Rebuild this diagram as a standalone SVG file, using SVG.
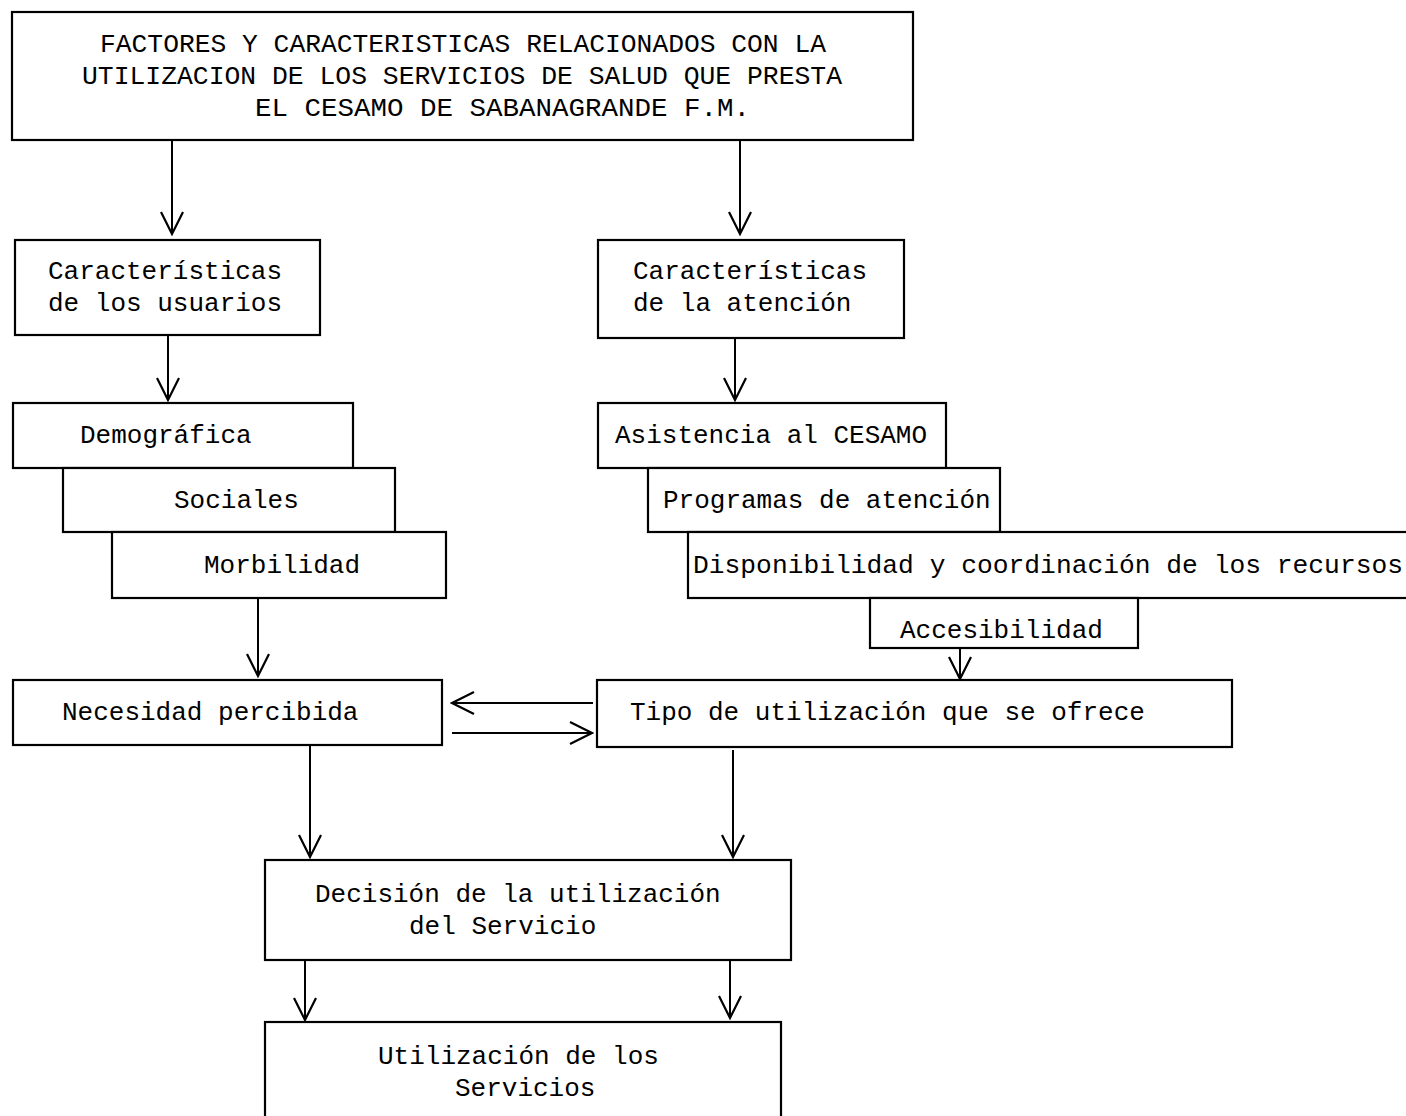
<svg xmlns="http://www.w3.org/2000/svg" width="1406" height="1116" viewBox="0 0 1406 1116">
<defs>
<style>
.box{fill:#fff;stroke:#000;stroke-width:2.2}
.t{font-family:"Liberation Mono","DejaVu Sans Mono",monospace;font-size:26px;fill:#000}
.c{fill:none;stroke:#000;stroke-width:2}
</style>
<marker id="v" viewBox="0 0 26 26" refX="24" refY="13" markerWidth="26" markerHeight="26" markerUnits="userSpaceOnUse" orient="auto">
<path d="M2,2 L24,13 L2,24" fill="none" stroke="#000" stroke-width="2.2"/>
</marker>
</defs>
<rect width="1406" height="1116" fill="#fff"/>
<g id="connectors">
<line class="c" x1="172" y1="140" x2="172" y2="234" marker-end="url(#v)"/>
<line class="c" x1="740" y1="140" x2="740" y2="234" marker-end="url(#v)"/>
<line class="c" x1="168" y1="335" x2="168" y2="400" marker-end="url(#v)"/>
<line class="c" x1="735" y1="338" x2="735" y2="400" marker-end="url(#v)"/>
<line class="c" x1="258" y1="598" x2="258" y2="676" marker-end="url(#v)"/>
<line class="c" x1="960" y1="648" x2="960" y2="679" marker-end="url(#v)"/>
<line class="c" x1="593" y1="703" x2="452" y2="703" marker-end="url(#v)"/>
<line class="c" x1="452" y1="733" x2="592" y2="733" marker-end="url(#v)"/>
<line class="c" x1="310" y1="745" x2="310" y2="857" marker-end="url(#v)"/>
<line class="c" x1="733" y1="750" x2="733" y2="857" marker-end="url(#v)"/>
<line class="c" x1="305" y1="960" x2="305" y2="1020" marker-end="url(#v)"/>
<line class="c" x1="730" y1="960" x2="730" y2="1018" marker-end="url(#v)"/>
</g>
<g id="n-titulo">
<rect class="box" x="12" y="12" width="901" height="128"/>
<text class="t" x="100" y="52" textLength="726" lengthAdjust="spacingAndGlyphs">FACTORES Y CARACTERISTICAS RELACIONADOS CON LA</text>
<text class="t" x="82" y="84" textLength="760" lengthAdjust="spacingAndGlyphs">UTILIZACION DE LOS SERVICIOS DE SALUD QUE PRESTA</text>
<text class="t" x="255" y="116" textLength="495" lengthAdjust="spacingAndGlyphs">EL CESAMO DE SABANAGRANDE F.M.</text>
</g>
<g id="n-usuarios">
<rect class="box" x="15" y="240" width="305" height="95"/>
<text class="t" x="48" y="279">Características</text>
<text class="t" x="48" y="311">de los usuarios</text>
</g>
<g id="n-atencion">
<rect class="box" x="598" y="240" width="306" height="98"/>
<text class="t" x="633" y="279">Características</text>
<text class="t" x="633" y="311">de la atención</text>
</g>
<g id="n-demografica">
<rect class="box" x="13" y="403" width="340" height="65"/>
<text class="t" x="80" y="443">Demográfica</text>
</g>
<g id="n-sociales">
<rect class="box" x="63" y="468" width="332" height="64"/>
<text class="t" x="174" y="508">Sociales</text>
</g>
<g id="n-morbilidad">
<rect class="box" x="112" y="532" width="334" height="66"/>
<text class="t" x="204" y="573">Morbilidad</text>
</g>
<g id="n-asistencia">
<rect class="box" x="598" y="403" width="348" height="65"/>
<text class="t" x="615" y="443">Asistencia al CESAMO</text>
</g>
<g id="n-programas">
<rect class="box" x="648" y="468" width="352" height="64"/>
<text class="t" x="663" y="508">Programas de atención</text>
</g>
<g id="n-disponibilidad">
<rect class="box" x="688" y="532" width="730" height="66"/>
<text class="t" x="693" y="573" textLength="710" lengthAdjust="spacingAndGlyphs">Disponibilidad y coordinación de los recursos</text>
</g>
<g id="n-accesibilidad">
<rect class="box" x="870" y="598" width="268" height="50"/>
<text class="t" x="900" y="638">Accesibilidad</text>
</g>
<g id="n-necesidad">
<rect class="box" x="13" y="680" width="429" height="65"/>
<text class="t" x="62" y="720">Necesidad percibida</text>
</g>
<g id="n-tipo">
<rect class="box" x="597" y="680" width="635" height="67"/>
<text class="t" x="630" y="720">Tipo de utilización que se ofrece</text>
</g>
<g id="n-decision">
<rect class="box" x="265" y="860" width="526" height="100"/>
<text class="t" x="315" y="902">Decisión de la utilización</text>
<text class="t" x="409" y="934">del Servicio</text>
</g>
<g id="n-utilizacion">
<rect class="box" x="265" y="1022" width="516" height="110"/>
<text class="t" x="378" y="1064">Utilización de los</text>
<text class="t" x="455" y="1096">Servicios</text>
</g>
</svg>
